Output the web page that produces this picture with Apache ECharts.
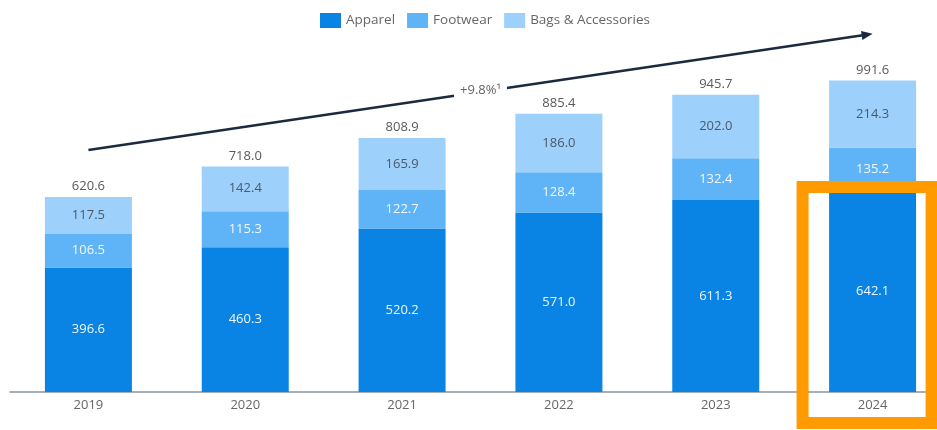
<!DOCTYPE html>
<html>
<head>
<meta charset="utf-8">
<script src="https://cdn.jsdelivr.net/npm/echarts@6/dist/echarts.min.js"></script>
<style>
  html, body { margin: 0; padding: 0; background: #fff; overflow: hidden; }
  #chart { width: 937px; height: 430px; }
</style>
</head>
<body>
<div id="chart"></div>
<script>
// Revenue by segment, 2019-2024
const years = ['2019', '2020', '2021', '2022', '2023', '2024'];
const apparel = [396.6, 460.3, 520.2, 571.0, 611.3, 642.1];
const footwear = [106.5, 115.3, 122.7, 128.4, 132.4, 135.2];
const bags = [117.5, 142.4, 165.9, 186.0, 202.0, 214.3];
const totals = [620.6, 718.0, 808.9, 885.4, 945.7, 991.6];

// Growth arrow endpoints (category, value) and its label
const trendFrom = ['2019', 770];
const trendTo = ['2024', 1140];
const trendLabel = '+9.8%\u00B9';

const highlightYear = '2024';

const FONT = '"Open Sans", sans-serif';
const colors = { apparel: '#0a84e4', footwear: '#5fb4f7', bags: '#9dd0fb' };

const chart = echarts.init(document.getElementById('chart'), null, { width: 937, height: 430 });

function segLabel(color) {
  return {
    show: true, position: 'inside', color: color,
    fontFamily: FONT, fontSize: 13,
    formatter: p => p.value.toFixed(1)
  };
}

chart.setOption({
  animation: false,
  textStyle: { fontFamily: FONT },
  legend: {
    data: ['Apparel', 'Footwear', 'Bags & Accessories'],
    left: 315, top: 8,
    itemWidth: 21, itemHeight: 15, itemGap: 12,
    icon: 'rect',
    textStyle: { color: '#666', fontSize: 13.5, fontFamily: FONT, padding: [0, 0, 0, 0] }
  },
  grid: { left: 10, width: 941, top: 77.8, bottom: 38, outerBoundsMode: 'none', containLabel: false },
  xAxis: {
    type: 'category', data: years,
    axisLine: { lineStyle: { color: '#8a949e', width: 1.5 } },
    axisTick: { show: false },
    axisLabel: { color: '#666', fontSize: 13, fontFamily: FONT, margin: 7 }
  },
  yAxis: {
    type: 'value', min: 0, max: 1000, show: false,
    splitLine: { show: false }
  },
  series: [
    { name: 'Apparel', type: 'bar', stack: 'rev', barWidth: 87, data: apparel,
      itemStyle: { color: colors.apparel }, label: segLabel('#eef6fd') },
    { name: 'Footwear', type: 'bar', stack: 'rev', barWidth: 87, data: footwear,
      itemStyle: { color: colors.footwear }, label: segLabel('#f2f8fe') },
    { name: 'Bags & Accessories', type: 'bar', stack: 'rev', barWidth: 87, data: bags,
      itemStyle: { color: colors.bags }, label: segLabel('#4d5966') },
    { name: 'Total', type: 'bar', stack: 'rev', barWidth: 87,
      data: totals.map(() => 0),
      itemStyle: { color: 'transparent' },
      label: {
        show: true, position: 'top', distance: 4,
        color: '#5a5a5a', fontFamily: FONT, fontSize: 13,
        formatter: p => totals[p.dataIndex].toFixed(1)
      },
      tooltip: { show: false }
    }
  ]
});

// Annotations: growth arrow and highlight frame
const p0 = chart.convertToPixel({ gridIndex: 0 }, trendFrom);
const p1 = chart.convertToPixel({ gridIndex: 0 }, trendTo);
const ang = Math.atan2(p1[1] - p0[1], p1[0] - p0[0]);
const headLen = 11, headHalf = 4.5;
const baseX = p1[0] - headLen * Math.cos(ang), baseY = p1[1] - headLen * Math.sin(ang);
const nx = -Math.sin(ang), ny = Math.cos(ang);
const mid = [(p0[0] + p1[0]) / 2, (p0[1] + p1[1]) / 2];
const hx = chart.convertToPixel({ xAxisIndex: 0 }, highlightYear);
const axisY = chart.convertToPixel({ yAxisIndex: 0 }, 0);

chart.setOption({
  graphic: [
    { type: 'line', z: 10,
      shape: { x1: p0[0], y1: p0[1], x2: baseX + 1 * Math.cos(ang), y2: baseY + 1 * Math.sin(ang) },
      style: { stroke: '#1b2a3f', lineWidth: 2.6 } },
    { type: 'polygon', z: 10,
      shape: { points: [[p1[0], p1[1]], [baseX + nx * headHalf, baseY + ny * headHalf], [baseX - nx * headHalf, baseY - ny * headHalf]] },
      style: { fill: '#1b2a3f' } },
    { type: 'text', z: 11, x: mid[0], y: mid[1] - 2,
      style: { text: trendLabel, fill: '#666', font: '13px ' + FONT,
        align: 'center', verticalAlign: 'middle',
        backgroundColor: '#fff', padding: [2, 6] } },
    { type: 'rect', z: 20,
      shape: { x: hx - 70, y: 187, width: 129, height: axisY + 31 - 187 },
      style: { fill: 'none', stroke: '#ff9a00', lineWidth: 12 } }
  ]
});
</script>
</body>
</html>
